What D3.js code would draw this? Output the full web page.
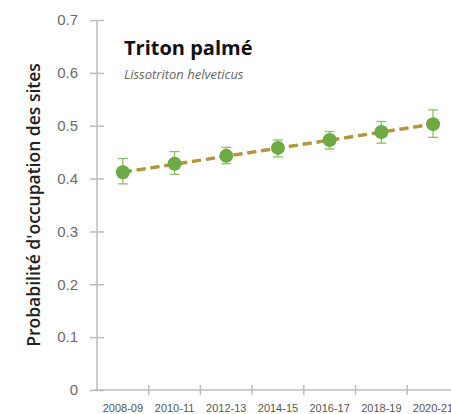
<!DOCTYPE html>
<html>
<head>
<meta charset="utf-8">
<script src="https://cdn.jsdelivr.net/npm/d3@7"></script>
<style>
  body { margin: 0; background: #fff; }
  svg { display: block; font-family: 'Open Sans', 'Noto Sans', sans-serif; }
</style>
</head>
<body>
<svg id="chart" width="451" height="414"></svg>
<script>
/* Chart data
--------------------------------------------------- */
const periods = ['2008-09', '2010-11', '2012-13', '2014-15', '2016-17', '2018-19', '2020-21'];
const occupancy = [0.412, 0.428, 0.443, 0.458, 0.473, 0.488, 0.503];
const lower = [0.390, 0.408, 0.428, 0.441, 0.456, 0.467, 0.478];
const upper = [0.438, 0.451, 0.459, 0.473, 0.489, 0.508, 0.530];
const trend = [0.412, 0.503];
const yTicks = [0, 0.1, 0.2, 0.3, 0.4, 0.5, 0.6, 0.7];

const data = periods.map((p, i) => ({ period: p, value: occupancy[i], lo: lower[i], hi: upper[i] }));

/* Scales
--------------------------------------------------- */
const svg = d3.select('#chart');
const margin = { left: 97, top: 20 };
const plotHeight = 370;

const x = d3.scaleBand().domain(periods).range([margin.left, margin.left + 7 * 51.7]);
const y = d3.scaleLinear().domain([0, 0.7]).range([margin.top + plotHeight, margin.top]);
const cx = d => x(d) + x.bandwidth() / 2;

const axisColor = '#bdbdbd';
const green = '#6eaa44';

/* Y axis
--------------------------------------------------- */
const yAxis = svg.append('g')
  .attr('transform', `translate(${margin.left},0)`)
  .call(d3.axisLeft(y).tickValues(yTicks).tickFormat(d => d === 0 ? '0' : d3.format('.1f')(d)).tickSize(7).tickPadding(12));
yAxis.select('.domain').attr('stroke', axisColor).attr('stroke-width', 1.5).attr('d', `M0,${y(0)}V${y(0.7)}`);
yAxis.selectAll('.tick line').attr('stroke', axisColor).attr('stroke-width', 1.5).attr('x1', 7).attr('x2', -7);
yAxis.selectAll('.tick text').attr('fill', '#6b6b6b').style('font-size', '15px');

/* X axis
--------------------------------------------------- */
const xAxis = svg.append('g')
  .attr('transform', `translate(0,${y(0)})`)
  .call(d3.axisBottom(x).tickSize(0).tickPadding(14));
xAxis.select('.domain').attr('stroke', axisColor).attr('stroke-width', 1.5).attr('d', `M${margin.left - 4},0H451`);
xAxis.selectAll('.tick text').attr('fill', '#555').style('font-size', '11px');
xAxis.selectAll('.sep')
  .data(periods.slice(1))
  .enter()
  .append('line')
  .attr('x1', d => x(d)).attr('x2', d => x(d))
  .attr('y1', -5).attr('y2', 5)
  .attr('stroke', axisColor).attr('stroke-width', 1.5);

/* Axis title
--------------------------------------------------- */
svg.append('text')
  .attr('transform', `translate(40,${y(0.35)}) rotate(-90)`)
  .attr('text-anchor', 'middle')
  .attr('fill', '#222')
  .style('font-size', '17.5px')
  .style('font-weight', 600)
  .text("Probabilité d'occupation des sites");

/* Species title
--------------------------------------------------- */
svg.append('text')
  .attr('x', 124).attr('y', 55)
  .attr('fill', '#111')
  .style('font-size', '20px')
  .style('font-weight', 700)
  .text('Triton palmé');

svg.append('text')
  .attr('x', 124).attr('y', 79)
  .attr('fill', '#666')
  .style('font-size', '13px')
  .style('font-style', 'italic')
  .text('Lissotriton helveticus');

/* Trend line
--------------------------------------------------- */
const trendData = [
  { period: periods[0], value: trend[0] },
  { period: periods[periods.length - 1], value: trend[1] },
];
const trendLine = d3.line().x(d => cx(d.period)).y(d => y(d.value));

svg.append('path')
  .datum(trendData)
  .attr('d', trendLine)
  .attr('fill', 'none')
  .attr('stroke', '#9aa64a')
  .attr('stroke-width', 3.5)
  .attr('stroke-dasharray', '9,5');

svg.append('path')
  .datum(trendData)
  .attr('d', trendLine)
  .attr('fill', 'none')
  .attr('stroke', '#c98a38')
  .attr('stroke-width', 1.8)
  .attr('stroke-dasharray', '9,5');

/* Error bars
--------------------------------------------------- */
const bars = svg.append('g').attr('stroke', '#8cbf6a').attr('stroke-width', 1.3);
bars.selectAll('.err')
  .data(data)
  .enter()
  .append('line')
  .attr('x1', d => cx(d.period)).attr('x2', d => cx(d.period))
  .attr('y1', d => y(d.lo)).attr('y2', d => y(d.hi));
bars.selectAll('.capHi')
  .data(data)
  .enter()
  .append('line')
  .attr('x1', d => cx(d.period) - 5).attr('x2', d => cx(d.period) + 5)
  .attr('y1', d => y(d.hi)).attr('y2', d => y(d.hi));
bars.selectAll('.capLo')
  .data(data)
  .enter()
  .append('line')
  .attr('x1', d => cx(d.period) - 5).attr('x2', d => cx(d.period) + 5)
  .attr('y1', d => y(d.lo)).attr('y2', d => y(d.lo));

/* Points
--------------------------------------------------- */
svg.selectAll('.dot')
  .data(data)
  .enter()
  .append('circle')
  .attr('cx', d => cx(d.period))
  .attr('cy', d => y(d.value))
  .attr('r', 7)
  .attr('fill', green);
</script>
</body>
</html>
